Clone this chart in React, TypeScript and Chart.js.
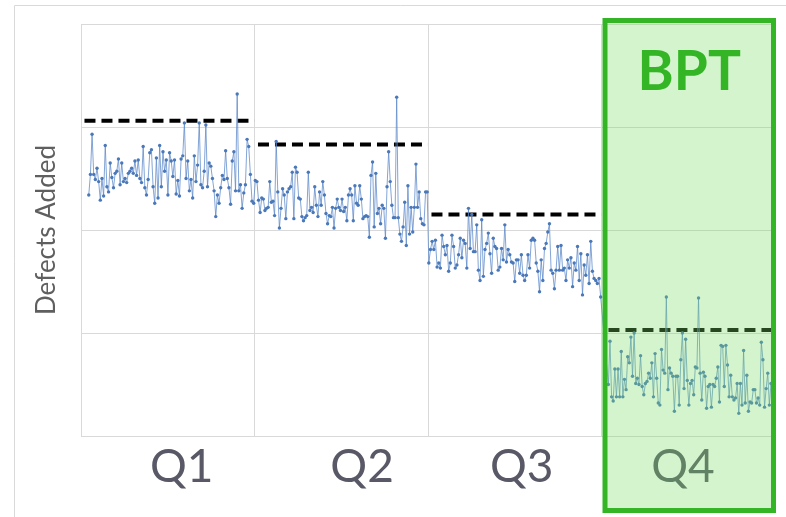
import React, { useEffect, useRef } from "react";
import { Chart, registerables } from "chart.js";

Chart.register(...registerables);

const quarterLabels = ["Q1", "Q2", "Q3", "Q4"];
const quarterLabelPos = [0.58, 1.62, 2.54, 3.47];
const quarterAverages = [30.6, 28.3, 21.5, 10.3];
const highlightTitle = "BPT";
const yTitle = "Defects Added";

const q1Values = [
  23.4, 25.4, 29.3, 25.4, 24.9, 26.0, 24.7, 22.9, 25.0, 23.3, 28.2, 24.2, 23.7, 26.5, 25.1, 24.1, 25.5, 25.7, 26.9, 24.4,
  26.5, 24.7, 25.0, 24.6, 25.5, 25.7, 26.0, 25.5, 26.7, 25.3, 26.8, 25.0, 24.6, 28.1, 24.1, 23.4, 24.9, 27.5, 27.8, 24.2,
  22.6, 27.0, 23.1, 28.2, 24.2, 27.6, 25.7, 26.8, 23.4, 27.5, 26.7, 25.2, 26.8, 23.5, 24.8, 23.3, 26.9, 27.2, 30.4, 25.0,
  26.7, 23.8, 24.9, 23.1, 27.2, 24.7, 26.3, 30.4, 24.4, 24.1, 25.7, 30.2, 24.2, 26.5, 26.2, 25.0, 23.8, 21.3, 23.4, 22.6,
  24.1, 25.3, 24.9, 27.7, 25.0, 24.1, 22.5, 26.7, 27.6, 23.8, 33.2, 23.8, 24.4, 22.1, 23.6, 24.4, 28.8, 28.1, 25.4, 22.8,
  22.6,
];
const q2Values = [
  24.8, 24.7, 22.9, 21.7, 23.1, 23.0, 21.9, 22.1, 22.2, 24.7, 22.7, 22.8, 21.4, 28.6, 23.7, 20.2, 22.1, 24.0, 23.4, 21.1,
  23.7, 24.0, 24.2, 25.6, 21.1, 26.1, 25.6, 23.1, 23.0, 21.3, 20.9, 21.2, 21.4, 25.6, 21.9, 22.2, 21.7, 24.2, 22.4, 21.3,
  23.7, 22.4, 24.7, 23.4, 21.6, 20.6, 21.4, 21.3, 22.2, 20.2, 22.1, 23.0, 22.2, 21.9, 23.0, 21.8, 22.2, 20.9, 23.4, 24.0,
  23.4, 20.9, 24.3, 22.6, 22.4, 24.3, 23.0, 21.1, 21.3, 21.4, 21.3, 19.3, 25.3, 26.6, 20.3, 25.5, 21.6, 22.1, 20.6, 22.4,
  22.1, 19.2, 24.2, 27.6, 24.7, 22.4, 21.2, 21.2, 32.9, 21.2, 19.6, 18.9, 20.3, 22.7, 18.5, 24.3, 19.6, 22.2, 19.8, 22.2,
  26.4, 22.2, 23.7, 21.1, 20.6, 20.5, 23.7, 23.7,
];
const q3Values = [
  16.8, 18.1, 18.9, 18.1, 19.0, 16.4, 16.8, 16.3, 19.5, 18.4, 17.6, 18.5, 16.0, 16.8, 19.5, 18.4, 16.3, 16.6, 17.6, 19.2,
  17.3, 19.0, 18.7, 16.3, 22.1, 18.2, 21.5, 17.9, 17.9, 20.5, 16.1, 15.1, 21.0, 15.5, 18.1, 18.7, 19.7, 17.7, 15.8, 19.2,
  18.4, 18.2, 16.1, 16.4, 18.2, 17.1, 20.5, 16.9, 18.1, 17.6, 16.9, 16.8, 15.0, 17.1, 17.1, 15.8, 17.6, 15.6, 15.1, 15.6,
  17.6, 16.3, 19.0, 19.2, 19.0, 16.8, 16.0, 14.0, 17.1, 15.1, 18.2, 18.7, 19.8, 20.6, 16.1, 15.8, 14.3, 16.1, 18.4, 16.1,
  18.5, 16.1, 16.3, 15.1, 17.1, 16.3, 17.3, 14.5, 16.8, 16.1, 18.4, 15.1, 17.7, 13.7, 16.6, 15.6, 17.6, 14.8, 18.9, 16.0,
  15.3, 15.1, 14.8, 15.3, 13.5,
];
const q4Values = [
  5.0, 9.2, 3.8, 3.4, 6.5, 3.8, 6.5, 3.8, 8.2, 3.8, 5.5, 4.5, 7.7, 7.1, 9.6, 5.8, 10.0, 5.1, 5.6, 5.0,
  7.8, 4.8, 4.0, 5.1, 5.3, 6.1, 5.6, 7.1, 3.8, 8.0, 5.6, 3.2, 3.0, 8.4, 6.4, 6.1, 13.5, 4.5, 6.6, 6.1,
  5.8, 2.4, 5.8, 5.8, 3.0, 7.4, 10.0, 4.6, 9.4, 5.4, 3.0, 5.1, 5.4, 4.0, 6.7, 6.6, 13.4, 6.1, 3.5, 6.2,
  5.8, 2.7, 4.8, 5.0, 2.8, 5.0, 4.8, 5.6, 6.7, 3.3, 8.8, 8.7, 4.8, 8.8, 6.9, 3.8, 5.9, 3.8, 3.5, 3.7,
  5.1, 2.2, 5.1, 3.0, 8.3, 3.2, 5.9, 2.4, 3.3, 3.2, 4.5, 4.5, 3.2, 3.7, 3.0, 9.1, 7.4, 2.8, 4.6, 6.1,
  3.0, 5.1, 3.8, 6.4,
];

const quarterSeries = [q1Values, q2Values, q3Values, q4Values];
// fraction of each quarter left empty before its first point
const quarterLead = [0.04, 0, 0, 0.035];

const GRID = "#d9d9d9";

const overlayPlugin = {
  id: "overlay",
  beforeDraw(chart: any) {
    const c = chart.ctx;
    c.save();
    c.fillStyle = "#ffffff";
    c.fillRect(0, 0, chart.width, chart.height);
    c.strokeStyle = GRID;
    c.lineWidth = 1;
    c.beginPath();
    c.moveTo(14.5, chart.height);
    c.lineTo(14.5, 5.5);
    c.lineTo(chart.width, 5.5);
    c.stroke();
    c.restore();
  },
  afterDatasetsDraw(chart: any) {
    const c = chart.ctx;
    const xs = chart.scales.x;
    const area = chart.chartArea;
    c.save();
    c.translate(47, (area.top + area.bottom) / 2);
    c.rotate(-Math.PI / 2);
    c.fillStyle = "#5f5f5f";
    c.font = "26px Lato";
    c.textAlign = "center";
    c.textBaseline = "middle";
    c.fillText(yTitle, 0, 0);
    c.restore();

    c.save();
    c.fillStyle = "#585866";
    c.font = "46px Lato";
    c.textAlign = "center";
    c.textBaseline = "alphabetic";
    quarterLabels.forEach((lab, i) => {
      c.fillText(lab, xs.getPixelForValue(quarterLabelPos[i]), area.bottom + 46);
    });
    c.restore();

    const x0 = xs.getPixelForValue(3) + 3.5;
    const x1 = xs.getPixelForValue(4) - 1.5;
    const y0 = 20.5;
    const y1 = 510.5;
    c.save();
    c.fillStyle = "rgba(120, 220, 100, 0.32)";
    c.fillRect(x0, y0, x1 - x0, y1 - y0);
    c.strokeStyle = "#33b525";
    c.lineWidth = 5;
    c.strokeRect(x0, y0, x1 - x0, y1 - y0);
    c.fillStyle = "#33b525";
    c.font = "bold 55px Lato";
    c.textAlign = "center";
    c.textBaseline = "alphabetic";
    c.fillText(highlightTitle, (x0 + x1) / 2, 90);
    c.restore();
  },
};

export default function App() {
  const ref = useRef<HTMLCanvasElement | null>(null);
  useEffect(() => {
    document.body.style.margin = "0";
    const points: { x: number; y: number }[] = [];
    quarterSeries.forEach((vals, q) => {
      const lead = quarterLead[q];
      vals.forEach((v, i) => {
        points.push({ x: q + lead + ((1 - lead) * (i + 0.5)) / vals.length, y: v });
      });
    });
    const avgSets = quarterAverages.map((v, q) => ({
      data: [
        { x: q + (q === 3 ? 0.04 : 0.02), y: v },
        { x: q + 1, y: v },
      ],
      borderColor: "#000000",
      borderWidth: 4,
      borderDash: [11, 6],
      pointRadius: 0,
      fill: false,
    }));
    const chart = new Chart(ref.current as HTMLCanvasElement, {
      type: "line",
      data: {
        datasets: [
          {
            data: points,
            borderColor: "rgba(90, 135, 200, 0.75)",
            borderWidth: 1,
            pointRadius: 1.7,
            pointBackgroundColor: "#4a78b8",
            pointBorderWidth: 0,
            tension: 0,
          },
          ...avgSets,
        ],
      },
      options: {
        animation: false,
        responsive: false,
        devicePixelRatio: 1,
        layout: { padding: { left: 81, top: 24, right: 11, bottom: 81 } },
        plugins: { legend: { display: false }, tooltip: { enabled: false } },
        scales: {
          x: {
            type: "linear",
            min: 0,
            max: 4,
            ticks: { display: false, stepSize: 1 },
            grid: { color: GRID, drawTicks: false },
            border: { color: GRID },
          },
          y: {
            min: 0,
            max: 40,
            ticks: { display: false, stepSize: 10 },
            grid: { color: GRID, drawTicks: false },
            border: { color: GRID },
          },
        },
      },
      plugins: [overlayPlugin],
    });
    return () => chart.destroy();
  }, []);
  return (
    <div style={{ width: 786, height: 517 }}>
      <canvas ref={ref} width={786} height={517} style={{ display: "block" }} />
    </div>
  );
}
